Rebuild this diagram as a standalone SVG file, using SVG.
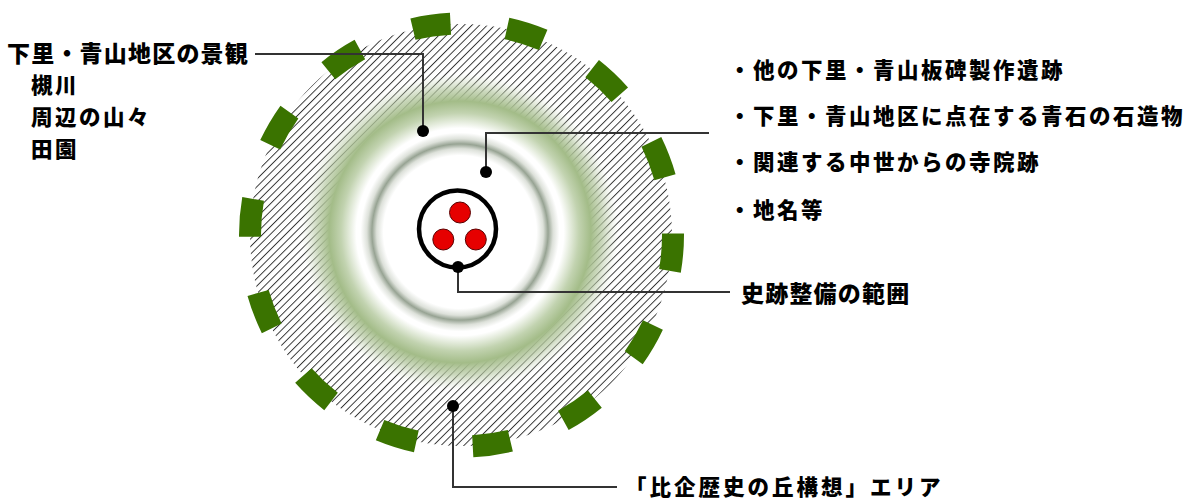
<svg xmlns="http://www.w3.org/2000/svg" width="1194" height="499" viewBox="0 0 1194 499">
  <style>
    text { font-family: "Noto Sans CJK JP", "Noto Sans", sans-serif; font-weight: 900; fill: #000; }
    .t20 { font-size: 21.5px; letter-spacing: 2.5px; }
    .t22 { font-size: 23px; letter-spacing: 1.2px; }
    .lead { fill: none; stroke: #333; stroke-width: 2; }
    .dot { fill: #000; }
    .red { fill: #e60000; stroke: #5a0000; stroke-width: 1; }
  </style>
  <defs>
    <pattern id="hatch" patternUnits="userSpaceOnUse" width="5.4" height="10" patternTransform="rotate(45)">
      <line x1="0.5" y1="0" x2="0.5" y2="10" stroke="#000" stroke-width="0.8"/>
    </pattern>
    <radialGradient id="glow" gradientUnits="userSpaceOnUse" cx="460" cy="232" r="170">
      <stop offset="0" stop-color="#fff" stop-opacity="1"/>
      <stop offset="0.45" stop-color="#fff" stop-opacity="1"/>
      <stop offset="0.49" stop-color="#dde1da" stop-opacity="1"/>
      <stop offset="0.518" stop-color="#97a393" stop-opacity="1"/>
      <stop offset="0.548" stop-color="#dde1da" stop-opacity="1"/>
      <stop offset="0.585" stop-color="#fff" stop-opacity="1"/>
      <stop offset="0.61" stop-color="#fff" stop-opacity="1"/>
      <stop offset="0.70" stop-color="#c2d3b0" stop-opacity="1"/>
      <stop offset="0.77" stop-color="#a3bc88" stop-opacity="1"/>
      <stop offset="0.84" stop-color="#b6c9a2" stop-opacity="0.7"/>
      <stop offset="0.93" stop-color="#d4dfc8" stop-opacity="0"/>
      <stop offset="1" stop-color="#fff" stop-opacity="0"/>
    </radialGradient>
  </defs>

  <g id="area-hikihistory">
    <circle cx="461" cy="235" r="211" fill="url(#hatch)"/>
  </g>
  <g id="area-landscape">
    <circle cx="460" cy="232" r="170" fill="url(#glow)"/>
  </g>
  <g id="area-boundary">
    <circle cx="461.5" cy="235" r="211.5" fill="none" stroke="#3a7300" stroke-width="22" stroke-dasharray="38 56.92" stroke-dashoffset="2"/>
  </g>
  <g id="site-core">
    <circle cx="457.5" cy="229" r="38.5" fill="#fff" stroke="#000" stroke-width="4.5"/>
    <circle class="red" cx="460" cy="212.5" r="10.5"/>
    <circle class="red" cx="443.3" cy="239.5" r="10.5"/>
    <circle class="red" cx="475.8" cy="239.5" r="10.5"/>
  </g>

  <g id="connectors">
    <polyline class="lead" points="255,54 423,54 423,131"/>
    <polyline class="lead" points="486,172 486,133 709,133"/>
    <polyline class="lead" points="458,267 458,292 730,292"/>
    <polyline class="lead" points="453,406 453,487 617,487"/>
    <circle class="dot" cx="423" cy="131" r="6"/>
    <circle class="dot" cx="486" cy="172" r="6"/>
    <circle class="dot" cx="458" cy="267" r="6"/>
    <circle class="dot" cx="453" cy="406" r="6"/>
  </g>

  <g id="label-landscape">
    <text class="t22" x="7" y="62">下里・青山地区の景観</text>
    <text class="t20" x="31" y="93">槻川</text>
    <text class="t20" x="31" y="125">周辺の山々</text>
    <text class="t20" x="31" y="157">田園</text>
  </g>
  <g id="label-related">
    <text class="t20" x="729" y="78">・他の下里・青山板碑製作遺跡</text>
    <text class="t20" x="729" y="124">・下里・青山地区に点在する青石の石造物</text>
    <text class="t20" x="729" y="170">・関連する中世からの寺院跡</text>
    <text class="t20" x="729" y="218">・地名等</text>
  </g>
  <g id="label-site">
    <text class="t22" x="741" y="302">史跡整備の範囲</text>
  </g>
  <g id="label-area">
    <text class="t20" x="625" y="495" style="letter-spacing:3px">「比企歴史の丘構想」エリア</text>
  </g>
</svg>
